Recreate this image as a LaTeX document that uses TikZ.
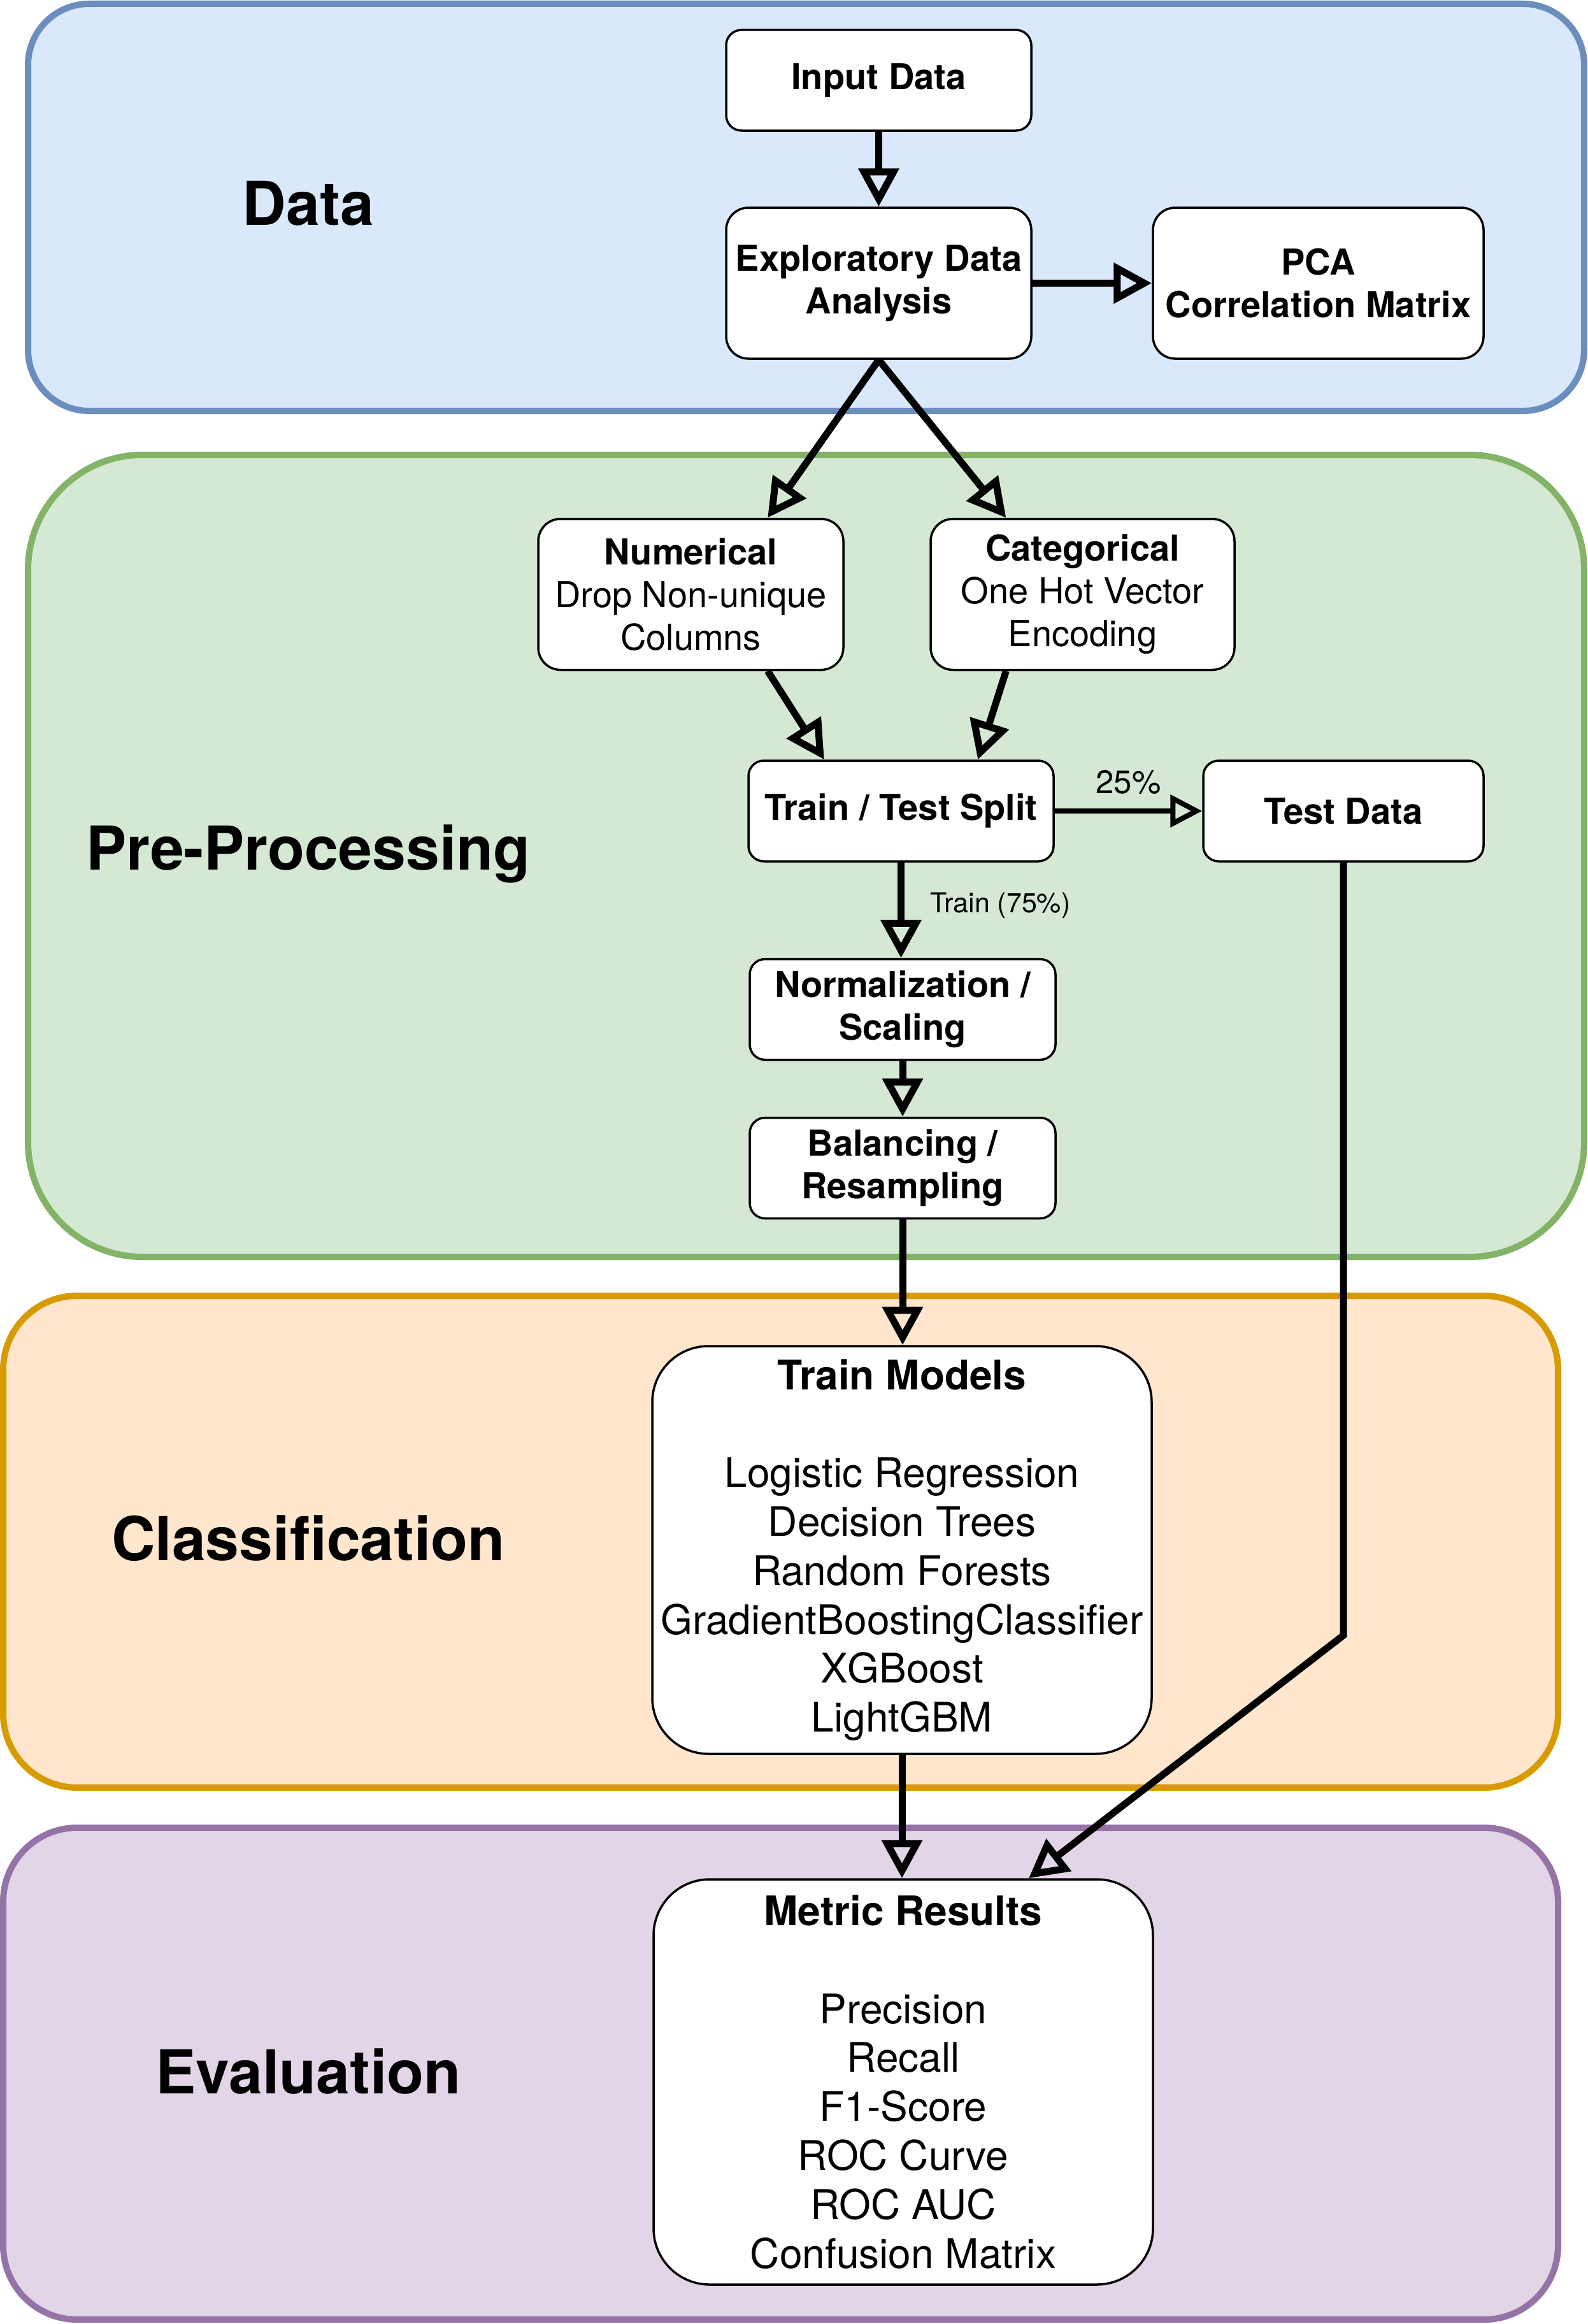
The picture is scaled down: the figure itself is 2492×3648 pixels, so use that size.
\documentclass[tikz,border=0pt]{standalone}
\usepackage{fontspec}
\setmainfont{TeX Gyre Heros}
\usetikzlibrary{arrows.meta,calc}
\definecolor{bluefill}{HTML}{DAE8FC}
\definecolor{bluestroke}{HTML}{6C8EBF}
\definecolor{greenfill}{HTML}{D5E8D4}
\definecolor{greenstroke}{HTML}{82B366}
\definecolor{orangefill}{HTML}{FFE6CC}
\definecolor{orangestroke}{HTML}{D79B00}
\definecolor{purplefill}{HTML}{E1D5E7}
\definecolor{purplestroke}{HTML}{9673A6}
\tikzset{
  section/.style={line width=10pt, inner sep=0pt},
  seclabel/.style={font=\fontsize{95}{114}\selectfont\bfseries, inner sep=0pt},
  box/.style={draw=black, fill=white, line width=3.5pt, align=center, inner sep=0pt,
    font=\fontsize{56}{67.2}\selectfont},
  smallbox/.style={box, rounded corners=24pt, minimum height=158pt},
  tallbox/.style={box, rounded corners=35pt, minimum height=237pt},
  bigbox/.style={box, rounded corners=88pt, font=\fontsize{64}{76.8}\selectfont},
  boldtext/.style={font=\fontsize{56}{67.2}\selectfont\bfseries},
  flow/.style={line width=11pt, -{Triangle[open,length=60pt,width=62pt]}},
  thinflow/.style={line width=8pt, -{Triangle[open,length=50pt,width=50pt]}},
  elabel/.style={inner sep=0pt, font=\fontsize{51}{61}\selectfont},
  elabelsmall/.style={inner sep=0pt, font=\fontsize{43}{52}\selectfont}
}
\begin{document}
\begin{tikzpicture}[x=1pt,y=-1pt]
\useasboundingbox (0,0) rectangle (2492,3648);
% sections
\node[section, draw=bluestroke, fill=bluefill, rounded corners=96pt,
  minimum width=2443pt, minimum height=639pt] (secData) at (1265.5,325.5) {};
\node[section, draw=greenstroke, fill=greenfill, rounded corners=180pt,
  minimum width=2443pt, minimum height=1259pt] (secPre) at (1265.5,1343.5) {};
\node[section, draw=orangestroke, fill=orangefill, rounded corners=116pt,
  minimum width=2441pt, minimum height=772pt] (secCls) at (1225.5,2420) {};
\node[section, draw=purplestroke, fill=purplefill, rounded corners=116pt,
  minimum width=2441pt, minimum height=772pt] (secEval) at (1225.5,3255) {};
% section labels
\node[seclabel] (lData) at (484,319) {Data};
\node[seclabel] (lPre) at (484,1340) {Pre-Processing};
\node[seclabel] (lCls) at (484,2415) {Classification};
\node[seclabel] (lEval) at (484,3251) {Evaluation};
% nodes
\node[smallbox, boldtext, minimum width=479pt] (inp) at (1379.5,126) {Input Data};
\node[tallbox, boldtext, minimum width=479pt] (eda) at (1379.5,444.5) {Exploratory Data\\Analysis};
\node[tallbox, boldtext, minimum width=519pt] (pca) at (2069.5,444.5) {PCA\\Correlation Matrix};
\node[tallbox, minimum width=479pt] (num) at (1084.5,933) {\textbf{Numerical}\\Drop Non-unique\\Columns};
\node[tallbox, minimum width=477pt] (cat) at (1699.5,933) {\textbf{Categorical}\\One Hot Vector\\Encoding};
\node[smallbox, boldtext, minimum width=479pt] (split) at (1414.5,1273) {Train / Test Split};
\node[smallbox, boldtext, minimum width=440pt] (test) at (2109,1273) {Test Data};
\node[smallbox, boldtext, minimum width=480pt] (norm) at (1417,1584.5) {Normalization /\\Scaling};
\node[smallbox, boldtext, minimum width=480pt] (bal) at (1417,1833.5) {Balancing /\\Resampling};
\node[bigbox, minimum width=784pt, minimum height=640pt] (train) at (1416,2433)
  {\textbf{Train Models}\\[76.8pt]Logistic Regression\\Decision Trees\\Random Forests\\GradientBoostingClassifier\\XGBoost\\LightGBM};
\node[bigbox, minimum width=784pt, minimum height=636pt] (metric) at (1418,3268)
  {\textbf{Metric Results}\\[76.8pt]Precision\\Recall\\F1-Score\\ROC Curve\\ROC AUC\\Confusion Matrix};
% connectors
\draw[flow] (inp.south) -- (eda.north);
\draw[flow] (eda.east) -- (pca.west);
\draw[flow] (eda.south) -- ($(num.north west)!0.75!(num.north east)$);
\draw[flow] (eda.south) -- ($(cat.north west)!0.25!(cat.north east)$);
\draw[flow] ($(num.south west)!0.75!(num.south east)$) -- ($(split.north west)!0.25!(split.north east)$);
\draw[flow] ($(cat.south west)!0.25!(cat.south east)$) -- ($(split.north west)!0.75!(split.north east)$);
\draw[thinflow] (split.east) -- (test.west)
  node[elabel, midway, above, yshift=22pt] (l25) {25\%};
\draw[flow] (split.south) -- (split.south |- norm.north)
  node[elabelsmall, pos=0.45, right, xshift=40pt] (l75) {Train (75\%)};
\draw[flow] (norm.south) -- (norm.south |- bal.north);
\draw[flow] (bal.south) -- (bal.south |- train.north);
\draw[flow] (train.south) -- (train.south |- metric.north);
\coordinate (bend) at (2109,2567);
\draw[flow] (test.south) -- (bend) -- ($(metric.north west)!0.75!(metric.north east)$);
\end{tikzpicture}
\end{document}
